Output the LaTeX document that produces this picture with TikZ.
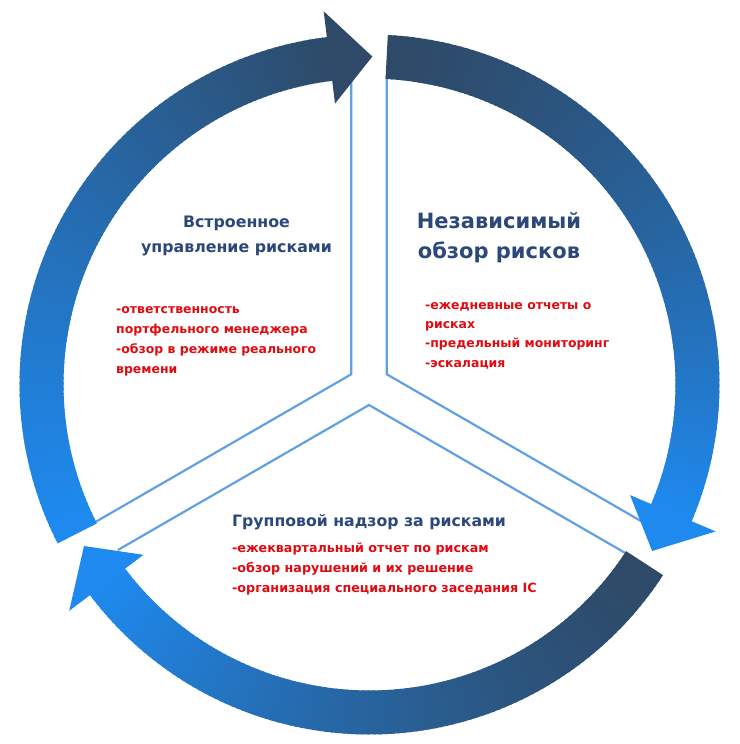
\documentclass[tikz,border=0pt]{standalone}
\usepackage{fontspec}
\setmainfont{DejaVu Sans}
\definecolor{ringdark}{RGB}{46,74,104}
\definecolor{ringbright}{RGB}{30,138,240}
\definecolor{sepblue}{RGB}{98,160,228}
\definecolor{titlenavy}{RGB}{44,72,122}
\definecolor{itemred}{RGB}{224,10,16}
\begin{document}
\begin{tikzpicture}[x=1pt,y=-1pt,
  sep/.style={draw=sepblue, line width=2.2pt, line join=miter},
  title/.style={font=\bfseries\fontsize{15.8}{25}\selectfont, text=titlenavy, align=center, inner sep=0pt},
  item/.style={font=\bfseries\fontsize{12.45}{19.7}\selectfont, text=itemred, align=left, inner sep=0pt}]
\fill[white] (0,0) rectangle (739,744);
\useasboundingbox (0,0) rectangle (739,744);
% separators (Y shape)
\draw[sep] (351.25,72) -- (351.25,374.25) -- (91.4,524.3);
\draw[sep] (386.75,76) -- (386.75,374.25) -- (646.6,524.3);
\draw[sep] (117.9,550) -- (369,405) -- (626.2,553.5);
\begin{scope}[shift={(369.5,384.5)}]
  % left arc: bright -> dark
  \foreach \i in {0,...,109} {
    \pgfmathsetmacro\a{153+\i}
    \pgfmathsetmacro\b{\a+1.4}
    \pgfmathsetmacro\p{100*(\i/110)^1.15}
    \fill[ringdark!\p!ringbright] (\a:306) -- (\a:350) -- (\b:350) -- (\b:306) -- cycle;
  }
  \fill[ringdark] (263:283) -- (263:376) -- (270.5:328) -- cycle;
  % right arc: dark -> bright
  \foreach \i in {0,...,109} {
    \pgfmathsetmacro\a{273+\i}
    \pgfmathsetmacro\b{\a+1.4}
    \pgfmathsetmacro\p{100-100*(\i/110)^1.4}
    \fill[ringdark!\p!ringbright] (\a:306) -- (\a:350) -- (\b:350) -- (\b:306) -- cycle;
  }
  \fill[ringbright] (383:283) -- (383:376) -- (390.5:328) -- cycle;
  % bottom arc: dark -> bright
  \foreach \i in {0,...,109} {
    \pgfmathsetmacro\a{33+\i}
    \pgfmathsetmacro\b{\a+1.4}
    \pgfmathsetmacro\p{100-100*(\i/110)^1.4}
    \fill[ringdark!\p!ringbright] (\a:306) -- (\a:350) -- (\b:350) -- (\b:306) -- cycle;
  }
  \fill[ringbright] (143:283) -- (143:376) -- (150.5:328) -- cycle;
\end{scope}
% texts (anchor = baseline of the last line)
\node[title, anchor=base] (t1) at (236.5,252) {Встроенное\\управление рисками};
\node[title, font=\bfseries\fontsize{21}{30}\selectfont, anchor=base] (t2) at (499,258) {Независимый\\обзор рисков};
\node[title, font=\bfseries\fontsize{15.7}{20}\selectfont, anchor=base west] (t3) at (232,526) {Групповой надзор за рисками};
\node[item, anchor=base west] (i1) at (116,373) {-ответственность\\портфельного менеджера\\-обзор в режиме реального\\времени};
\node[item, font=\bfseries\fontsize{12.45}{19.3}\selectfont, anchor=base west] (i2) at (425,367) {-ежедневные отчеты о\\рисках\\-предельный мониторинг\\-эскалация};
\node[item, font=\bfseries\fontsize{12.7}{20}\selectfont, anchor=base west] (i3) at (232,592) {-ежеквартальный отчет по рискам\\-обзор нарушений и их решение\\-организация специального заседания IC};
\end{tikzpicture}
\end{document}
